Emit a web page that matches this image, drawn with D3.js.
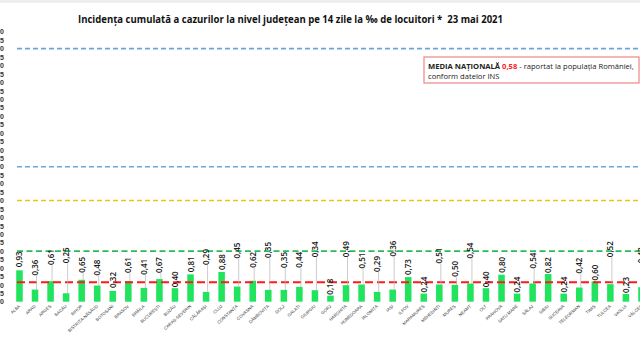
<!DOCTYPE html>
<html><head><meta charset="utf-8">
<script src="https://cdn.jsdelivr.net/npm/d3@7"></script>
<style>html,body{margin:0;padding:0;background:#fff;overflow:hidden}svg{display:block}</style>
</head><body>
<script>
// ---- data ----
const counties = ["ALBA","ARAD","ARGEȘ","BACĂU","BIHOR","BISTRIȚA-NĂSĂUD","BOTOȘANI","BRAȘOV","BRĂILA","BUCUREȘTI","BUZĂU","CARAȘ-SEVERIN","CĂLĂRAȘI","CLUJ","CONSTANȚA","COVASNA","DÂMBOVIȚA","DOLJ","GALAȚI","GIURGIU","GORJ","HARGHITA","HUNEDOARA","IALOMIȚA","IAȘI","ILFOV","MARAMUREȘ","MEHEDINȚI","MUREȘ","NEAMȚ","OLT","PRAHOVA","SATU MARE","SĂLAJ","SIBIU","SUCEAVA","TELEORMAN","TIMIȘ","TULCEA","VASLUI","VÂLCEA","VRANCEA"];
const incidence = [0.93,0.36,0.61,0.25,0.65,0.48,0.32,0.61,0.41,0.67,0.40,0.81,0.29,0.88,0.45,0.62,0.35,0.35,0.44,0.34,0.18,0.49,0.51,0.29,0.36,0.73,0.24,0.51,0.50,0.54,0.40,0.80,0.24,0.54,0.82,0.24,0.42,0.60,0.52,0.23,0.43,0.40];
const nationalAverage = 0.58;
const thresholds = [1.5, 3, 4, 7.5];
const yTicks = d3.range(0, 8.0001, 0.25);
const titleText = "Incidența cumulată a cazurilor la nivel județean pe 14 zile la ‰ de locuitori *  23 mai 2021";

// ---- layout (not data) ----
const labelLift = [3,14,16,30,7,10,3,8,13,6,1,2,27,2,28,13,32,22,19,33,1,28,16,20,33,2,1,21,8,25,1,2,1,15,1,1,14,1,27,1,24,20];

const W = 640, H = 359;
const svg = d3.select("body").append("svg").attr("width", W).attr("height", H);
svg.append("rect").attr("width", W).attr("height", 3).attr("fill", "#eeeeee");

const x = d3.scaleBand().domain(counties).range([11.7, 11.7 + 15.55 * counties.length])
  .paddingInner(0.58).paddingOuter(0.29);
const y = d3.scaleLinear().domain([0, 8]).range([301.7, 31.7]);
const loc = d3.formatLocale({decimal: ",", thousands: ".", grouping: [3], currency: ["", " lei"]});
const f2 = loc.format(".2f");

// title
svg.append("text").attr("x", 78).attr("y", 23).attr("font-family", "Open Sans, sans-serif")
  .attr("font-weight", "bold").attr("font-size", 10).attr("fill", "#111")
  .style("white-space", "pre")
  .attr("textLength", 425).attr("lengthAdjust", "spacingAndGlyphs").text(titleText);

// y axis (labels only, clipped at the left edge as in the reference)
const yAxis = d3.axisLeft(y).tickValues(yTicks).tickFormat(f2).tickSize(0).tickPadding(0);
const ga = svg.append("g").attr("transform", "translate(3.8,0)").call(yAxis);
ga.select(".domain").remove();
ga.selectAll("text").attr("font-family", "Liberation Sans, sans-serif").attr("font-weight", "bold")
  .attr("font-size", 7).attr("fill", "#333");

// threshold lines
const thrStyle = {1.5: ["#27bd5c", "6,3.5", 1.6], 3: ["#f2be1a", "5,3", 1.6], 4: ["#6aa5dc", "5,3", 1.6], 7.5: ["#6aa5dc", "5,3", 1.6]};
svg.append("g").selectAll("line").data(thresholds).join("line")
  .attr("x1", 17).attr("x2", W + 20).attr("y1", d => y(d)).attr("y2", d => y(d))
  .attr("stroke", d => thrStyle[d][0]).attr("stroke-dasharray", d => thrStyle[d][1])
  .attr("stroke-width", d => thrStyle[d][2]);

// bars
svg.append("g").selectAll("rect").data(counties).join("rect")
  .attr("x", d => x(d)).attr("width", x.bandwidth())
  .attr("y", (d, i) => y(incidence[i])).attr("height", (d, i) => y(0) - y(incidence[i]))
  .attr("fill", "#22e35e");

// national average line
svg.append("line").attr("x1", 17).attr("x2", W + 20).attr("y1", y(nationalAverage)).attr("y2", y(nationalAverage))
  .attr("stroke", "#ff1a1a").attr("stroke-width", 2).attr("stroke-dasharray", "8,4");

// leader lines + value labels
const cx = d => x(d) + x.bandwidth() / 2;
svg.append("g").selectAll("line").data(counties).join("line")
  .attr("x1", d => cx(d) + 1.5).attr("x2", d => cx(d) + 1.5)
  .attr("y1", (d, i) => y(incidence[i])).attr("y2", (d, i) => y(incidence[i]) - labelLift[i])
  .attr("stroke", "#b5b5b5").attr("stroke-width", 0.7)
  .attr("display", (d, i) => labelLift[i] > 4 ? null : "none");
svg.append("g").selectAll("text").data(counties).join("text")
  .attr("transform", (d, i) => `translate(${cx(d) + 3},${y(incidence[i]) - labelLift[i]}) rotate(-90)`)
  .attr("font-family", "Open Sans, sans-serif").attr("font-weight", 600).attr("font-size", 8).attr("fill", "#1a1a1a")
  .text((d, i) => f2(incidence[i]));

// category labels
svg.append("g").selectAll("text").data(counties).join("text")
  .attr("transform", d => `translate(${cx(d) + 1},${y(0) + 5}) rotate(-42)`)
  .attr("text-anchor", "end").attr("font-family", "Liberation Sans, sans-serif")
  .attr("font-size", 4.3).attr("fill", "#333").text(d => d);

// legend box
const lg = svg.append("g");
lg.append("rect").attr("x", 424).attr("y", 57).attr("width", 215).attr("height", 26)
  .attr("fill", "#fff").attr("stroke", "#ee8f8f").attr("stroke-width", 1.3);
const t1 = lg.append("text").attr("x", 428).attr("y", 68.5).attr("font-family", "Open Sans, sans-serif")
  .attr("font-size", 7.6).attr("fill", "#222");
t1.append("tspan").attr("font-weight", "bold").text("MEDIA NAȚIONALĂ ");
t1.append("tspan").attr("font-weight", "bold").attr("fill", "#ff2020").text(f2(nationalAverage));
t1.append("tspan").text(" - raportat la populația României,");
lg.append("text").attr("x", 428).attr("y", 78.5).attr("font-family", "Open Sans, sans-serif")
  .attr("font-size", 7.6).attr("fill", "#222").text("conform datelor INS");
</script>
</body></html>
